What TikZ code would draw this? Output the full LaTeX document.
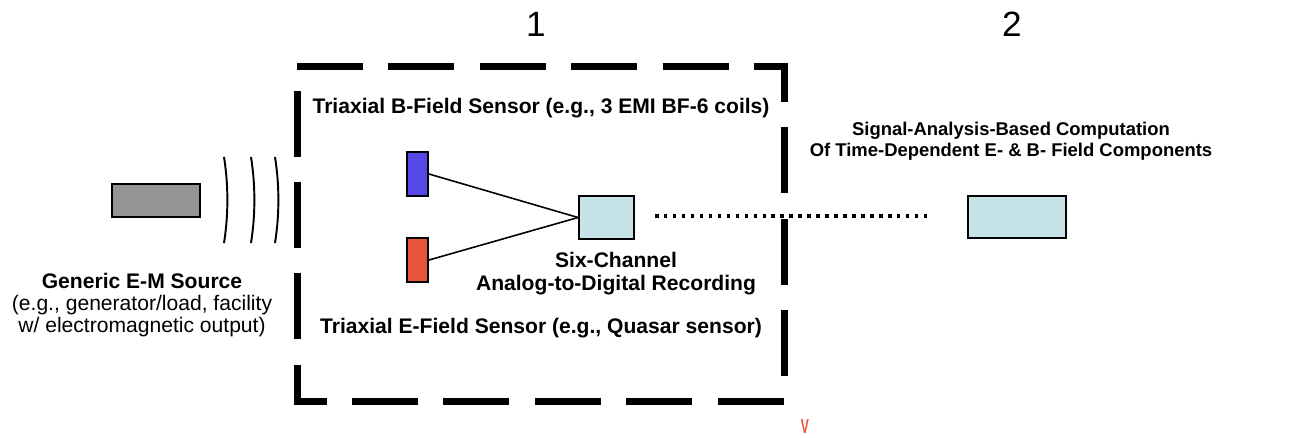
\documentclass[tikz,border=0pt]{standalone}
\usepackage{fontspec}
\setmainfont{Liberation Sans}
\usetikzlibrary{positioning}

\definecolor{srcgray}{RGB}{150,150,150}
\definecolor{bsensor}{RGB}{85,72,230}
\definecolor{esensor}{RGB}{232,84,60}
\definecolor{recfill}{RGB}{198,228,232}

\begin{document}
\begin{tikzpicture}[x=0.02cm,y=-0.02cm,
	lbl/.style={font=\fontsize{12}{13}\selectfont\bfseries,align=center,inner sep=0pt},
	unit/.style={draw,line width=1.1pt,inner sep=0pt},
	stage/.style={font=\fontsize{20}{24}\selectfont,inner sep=0pt}]
	\useasboundingbox (0,0) rectangle (1290,437);
	% source and field lines
	\node[unit,fill=srcgray,minimum width=1.76cm,minimum height=0.66cm] (src) at (156,200.5) {};
	\foreach \xa in {224,251,275}
		\draw[line width=1.1pt] (\xa,157) .. controls ({\xa+4.5},185) and ({\xa+4.5},215) .. (\xa,243);
	\node[lbl,anchor=north,font=\fontsize{12}{12.6}\selectfont] (srclbl) at (142,273)
		{\textbf{Generic E-M Source}\\(e.g., generator/load, facility\\w/ electromagnetic output)};
	% stage 1
	\draw[line width=3.98pt,dash pattern=on 1.32cm off 0.508cm]
		(297,66) -- (784,66) -- (784,401) -- (297,401) -- cycle;
	\node[stage,anchor=north] (one) at (536,12) {1};
	\node[lbl,anchor=north] (blbl) at (541,98) {Triaxial B-Field Sensor (e.g., 3 EMI BF-6 coils)};
	\node[lbl,anchor=north] (elbl) at (541,318) {Triaxial E-Field Sensor (e.g., Quasar sensor)};
	\node[unit,fill=bsensor,minimum width=0.42cm,minimum height=0.88cm] (bsens) at (417.5,174) {};
	\node[unit,fill=esensor,minimum width=0.42cm,minimum height=0.88cm] (esens) at (417.5,260) {};
	\node[unit,fill=recfill,minimum width=1.1cm,minimum height=0.86cm] (rec) at (606.5,217.5) {};
	\node[lbl,anchor=north] (reclbl) at (616,252) {Six-Channel\\Analog-to-Digital Recording};
	\draw[line width=0.9pt] (bsens.east) -- (rec.west);
	\draw[line width=0.9pt] (esens.east) -- (rec.west);
	% stage 2
	\node[stage,anchor=north] (two) at (1012,12) {2};
	\node[lbl,anchor=north,font=\fontsize{10.5}{12}\selectfont\bfseries] (complbl) at (1011,122)
		{Signal-Analysis-Based Computation\\Of Time-Dependent E- \& B- Field Components};
	\node[unit,fill=recfill,minimum width=1.96cm,minimum height=0.84cm] (comp) at (1017,217) {};
	\coordinate (d1) at (655,216);
	\coordinate (d2) at (932,216);
	\draw[line width=2pt,dash pattern=on 2pt off 3.1pt] (d1) -- (d2);
	\node[text=esensor,font=\fontsize{11.5}{13}\selectfont\bfseries,anchor=south,inner sep=0pt,xscale=0.6] (vmark) at (805,434) {V};
\end{tikzpicture}
\end{document}
